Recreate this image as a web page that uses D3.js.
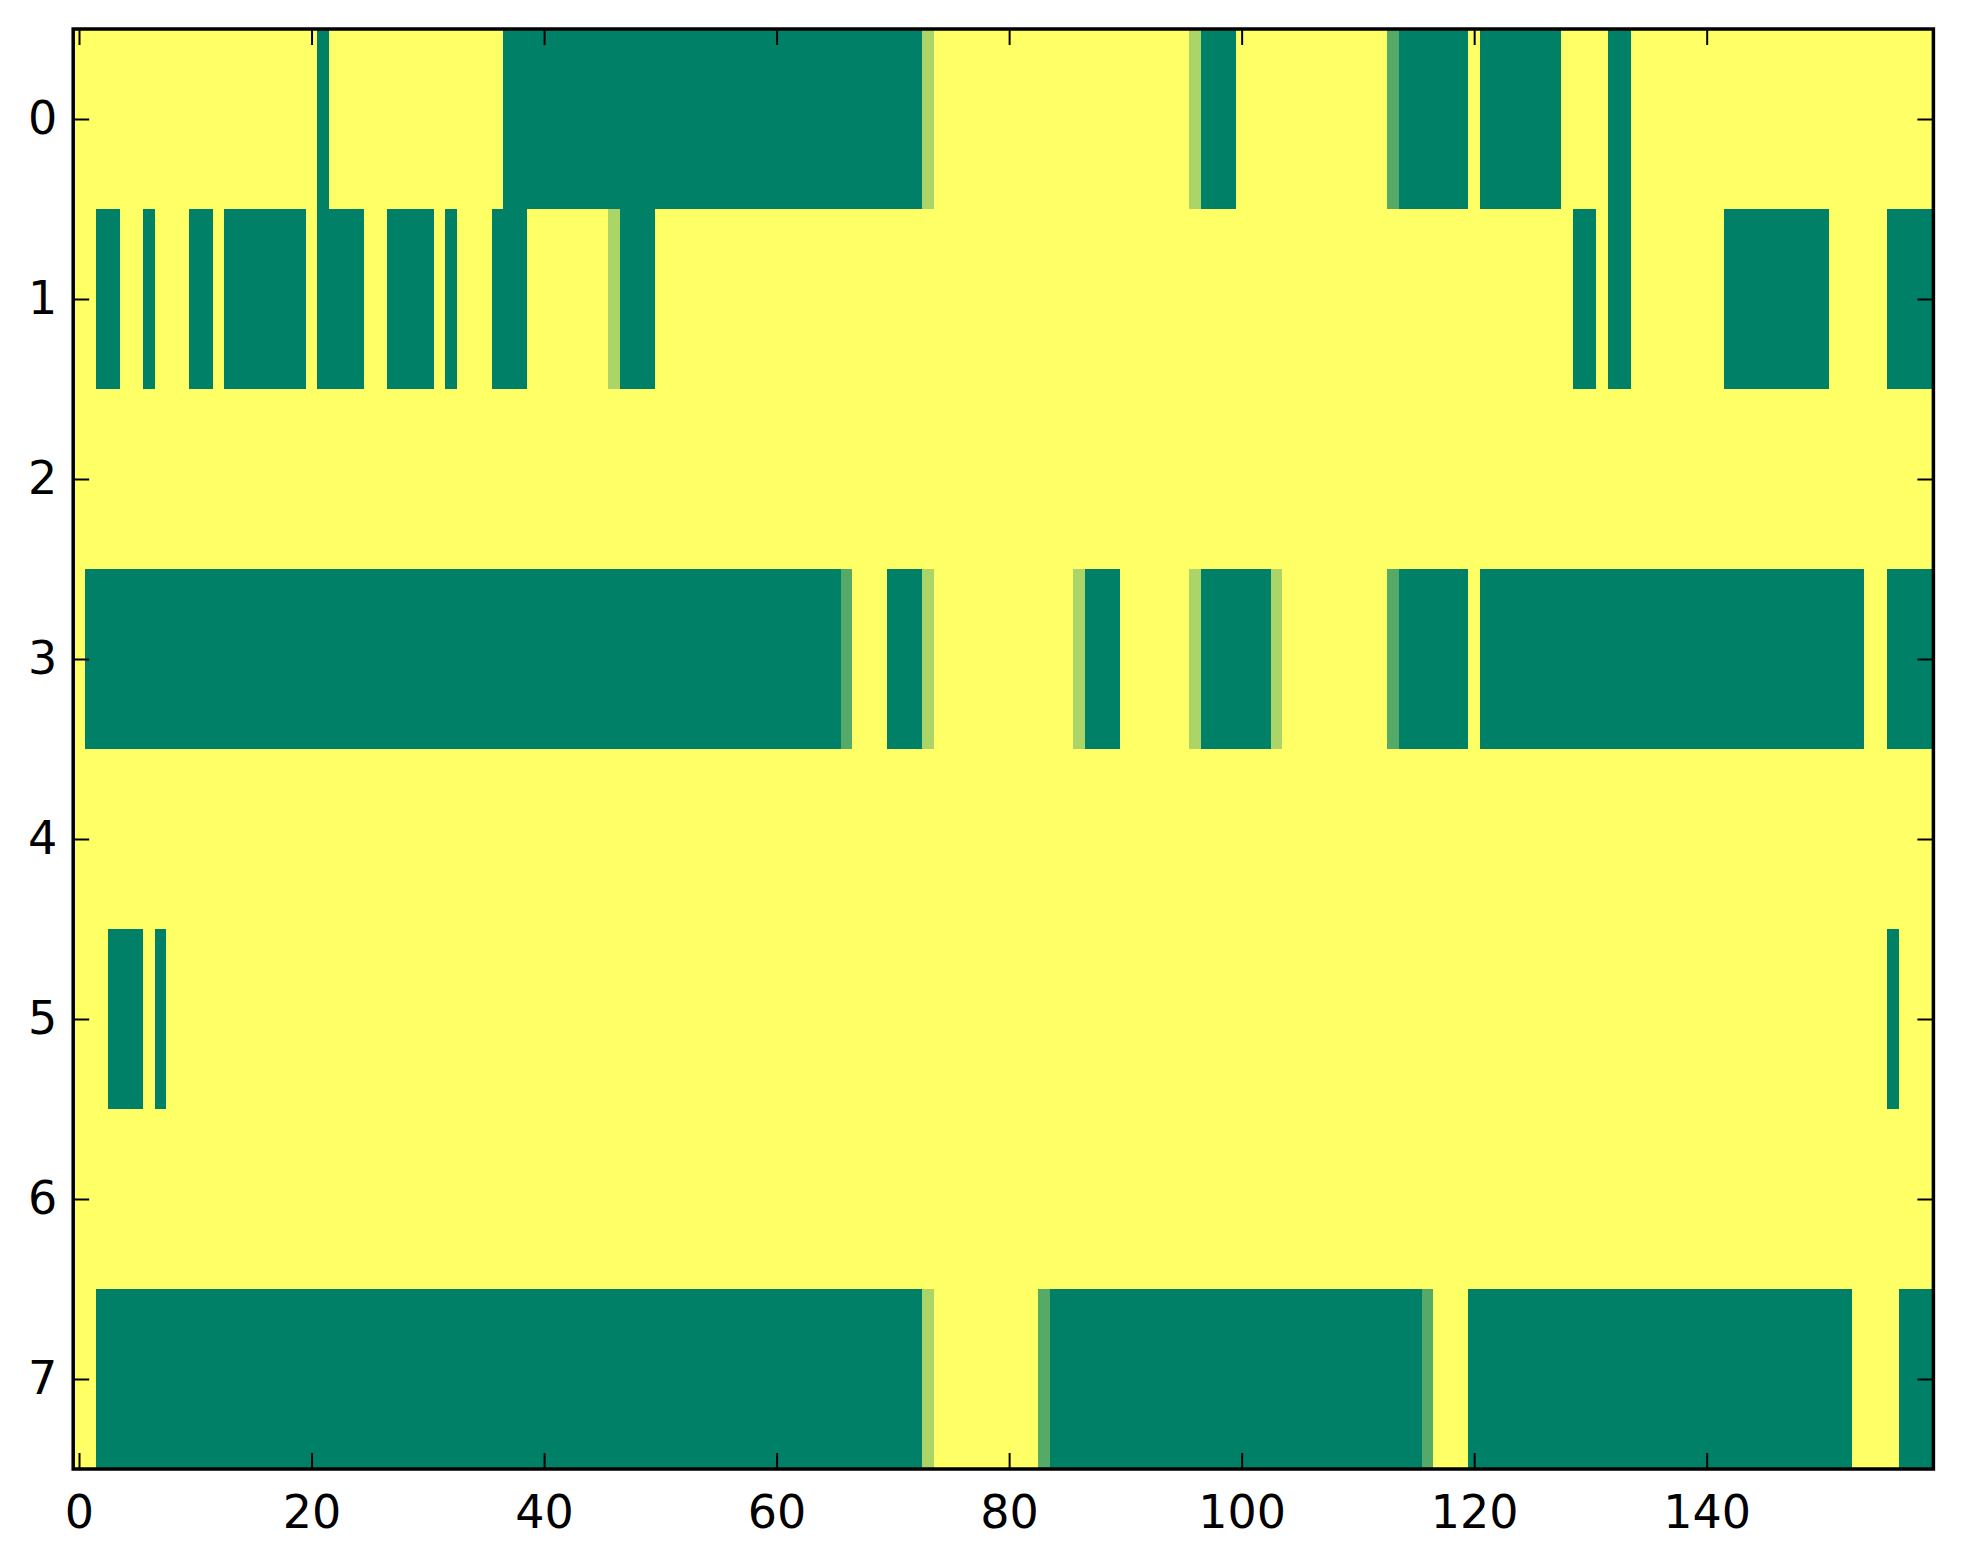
<!DOCTYPE html>
<html>
<head>
<meta charset="utf-8">
<script src="https://cdn.jsdelivr.net/npm/d3@7"></script>
<style>
  body { margin: 0; background: #fff; }
  .tick text { font-family: "DejaVu Sans", sans-serif; }
</style>
</head>
<body>
<div class="heatmap"></div>
<script>
// each row is a list of [value, run length] read left to right, 160 columns in total
const row0 = [[1,21],[0,1],[1,15],[0,36],[0.67,1],[1,22],[0.67,1],[0,3],[1,13],[0.33,1],[0,6],[1,1],[0,7],[1,4],[0,2],[1,26]];
const row1 = [[1,2],[0,2],[1,2],[0,1],[1,3],[0,2],[1,1],[0,7],[1,1],[0,4],[1,2],[0,4],[1,1],[0,1],[1,3],[0,3],[1,7],[0.67,1],[0,3],[1,79],[0,2],[1,1],[0,2],[1,8],[0,9],[1,5],[0,4]];
const row2 = [[1,160]];
const row3 = [[1,1],[0,65],[0.33,1],[1,3],[0,3],[0.67,1],[1,12],[0.67,1],[0,3],[1,6],[0.67,1],[0,6],[0.67,1],[1,9],[0.33,1],[0,6],[1,1],[0,33],[1,2],[0,4]];
const row4 = [[1,160]];
const row5 = [[1,3],[0,3],[1,1],[0,1],[1,148],[0,1],[1,3]];
const row6 = [[1,160]];
const row7 = [[1,2],[0,71],[0.67,1],[1,9],[0.33,1],[0,32],[0.33,1],[1,3],[0,33],[1,4],[0,3]];

const rows = [row0, row1, row2, row3, row4, row5, row6, row7];
const nCols = 160;
const xTicks = [0, 20, 40, 60, 80, 100, 120, 140];
const yTicks = [0, 1, 2, 3, 4, 5, 6, 7];

const width = 1963;
const height = 1564;
const plotLeft = 73.2;
const plotRight = 1933.4;
const plotTop = 29;
const plotBottom = 1469;

const svg = d3
  .select(".heatmap")
  .append("svg")
  .attr("width", width)
  .attr("height", height);

const x = d3.scaleLinear().domain([-0.5, nCols - 0.5]).range([plotLeft, plotRight]);
const y = d3.scaleLinear().domain([-0.5, rows.length - 0.5]).range([plotTop, plotBottom]);
// matplotlib "summer": linear from (0, .5, .4) to (1, 1, .4)
const color = d3.scaleLinear().domain([0, 1]).range(["#008066", "#ffff66"]);

// turn runs into segments with a start column
const cells = [];
rows.forEach((runs, r) => {
  let start = 0;
  runs.forEach(([v, n]) => {
    cells.push({ row: r, start: start, len: n, value: v });
    start += n;
  });
});

svg
  .append("g")
  .selectAll("rect")
  .data(cells)
  .enter()
  .append("rect")
  .attr("x", (d) => x(d.start - 0.5))
  .attr("y", (d) => y(d.row - 0.5))
  .attr("width", (d) => x(d.start + d.len - 0.5) - x(d.start - 0.5))
  .attr("height", (d) => y(d.row + 0.5) - y(d.row - 0.5))
  .attr("fill", (d) => color(d.value))
  .attr("shape-rendering", "crispEdges");

const tickLen = 16;

const styleAxis = (g) => {
  g.select(".domain").remove();
  g.selectAll(".tick line").attr("stroke", "#000").attr("stroke-width", 2);
  g.selectAll(".tick text").attr("font-size", 46).attr("fill", "#000");
};

svg
  .append("g")
  .attr("transform", `translate(0,${plotBottom})`)
  .call(d3.axisBottom(x).tickValues(xTicks).tickSize(-tickLen).tickPadding(26))
  .call(styleAxis);

svg
  .append("g")
  .attr("transform", `translate(0,${plotTop})`)
  .call(d3.axisTop(x).tickValues(xTicks).tickSize(-tickLen).tickFormat(""))
  .call(styleAxis);

svg
  .append("g")
  .attr("transform", `translate(${plotLeft},0)`)
  .call(d3.axisLeft(y).tickValues(yTicks).tickSize(-tickLen).tickPadding(16))
  .call(styleAxis);

svg
  .append("g")
  .attr("transform", `translate(${plotRight},0)`)
  .call(d3.axisRight(y).tickValues(yTicks).tickSize(-tickLen).tickFormat(""))
  .call(styleAxis);

// axes frame
svg
  .append("rect")
  .attr("x", plotLeft)
  .attr("y", plotTop)
  .attr("width", plotRight - plotLeft)
  .attr("height", plotBottom - plotTop)
  .attr("fill", "none")
  .attr("stroke", "#000")
  .attr("stroke-width", 3.5);
</script>
</body>
</html>
